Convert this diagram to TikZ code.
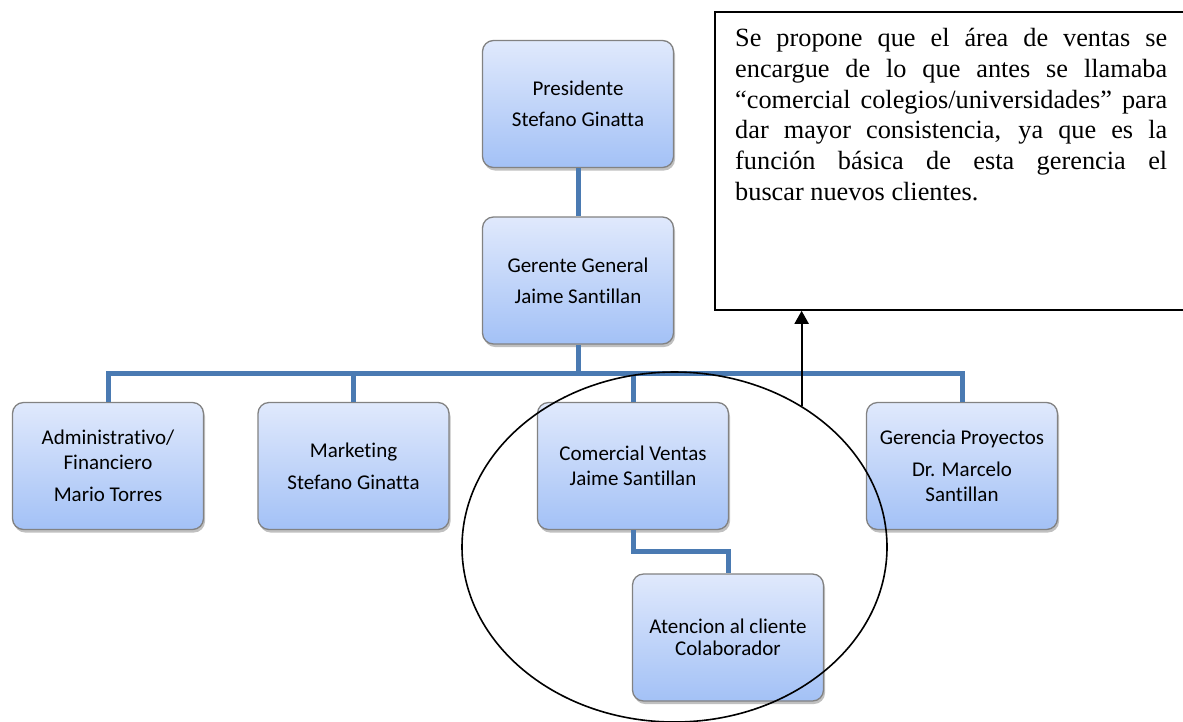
\documentclass[tikz,border=0pt]{standalone}
\usepackage{fontspec}
\setmainfont{Liberation Serif}
\newfontfamily\calib[Ligatures=NoCommon]{Carlito}
\usetikzlibrary{shapes.geometric,shadows,arrows.meta,calc}
\definecolor{conn}{RGB}{74,122,178}
\definecolor{btop}{RGB}{224,233,252}
\definecolor{bbot}{RGB}{163,193,246}
\definecolor{bord}{RGB}{130,130,130}
\begin{document}
\begin{tikzpicture}[x=1pt,y=-1pt,
  orgbox/.style={rectangle, rounded corners=11pt, draw=bord, line width=1.3pt,
    top color=btop, bottom color=bbot, minimum width=191pt, minimum height=127pt,
    inner sep=0pt, align=center, font=\calib\fontsize{21}{25}\selectfont,
    drop shadow={shadow xshift=1.5pt, shadow yshift=-3pt, opacity=0.35, fill=black!70}},
  link/.style={draw=conn, line width=5pt},
  ]
\clip (0,0) rectangle (1183,721);
\fill[white] (0,0) rectangle (1183,721);

% org boxes
\node[orgbox] (pres) at (578,104) {Presidente\\[6pt]Stefano Ginatta};
\node[orgbox] (ger) at (578,280.5) {Gerente General\\[6pt]Jaime Santillan};
\node[orgbox] (adm) at (108,466) {Administrativo/\\Financiero\\[7pt]Mario Torres};
\node[orgbox] (mkt) at (353.5,466) {Marketing\\[7pt]Stefano Ginatta};
\node[orgbox] (com) at (633,466) {Comercial Ventas\\Jaime Santillan};
\node[orgbox] (gp) at (962,466) {Gerencia Proyectos\\[7pt]Dr. Marcelo\\Santillan};
\node[orgbox, font=\calib\fontsize{21}{22}\selectfont] (at) at (728,637.5) {Atencion al cliente\\Colaborador};

% connectors
\coordinate (bar) at (578,373);
\draw[link] (pres.south) -- (ger.north);
\draw[link] (ger.south) -- (bar);
\draw[link] (adm.north) |- (gp.north |- bar) -- (gp.north);
\draw[link] (mkt.north) -- (mkt.north |- bar);
\draw[link] (com.north) -- (com.north |- bar);
\draw[link] (com.south) -- ($(com.south)!0.5!(com.south |- at.north)$) -| (at.north);

% note box
\node[draw, line width=1.8pt, minimum width=476pt, minimum height=298pt,
      anchor=north west, inner sep=0pt] (tb) at (714,11) {};
\node[anchor=north west, inner sep=0pt, text width=432pt, align=justify,
      font=\fontsize{26.3}{30.8}\selectfont] (tbt) at (735,28)
  {\hyphenpenalty=10000\exhyphenpenalty=10000
   Se propone que el área de ventas se\linebreak
   encargue de lo que antes se llamaba\linebreak
   “comercial colegios/universidades” para\linebreak
   dar mayor consistencia, ya que es la\linebreak
   función básica de esta gerencia el\linebreak
   buscar nuevos clientes.};

% ellipse and arrow
\node[draw, ellipse, line width=1.6pt, minimum width=425pt, minimum height=350pt,
      inner sep=0pt] (ell) at (674.5,547) {};
\draw[line width=2pt, -{Triangle[length=13pt,width=14pt]}] (ell.48.1) -- (ell.48.1 |- tb.south);
\end{tikzpicture}
\end{document}
